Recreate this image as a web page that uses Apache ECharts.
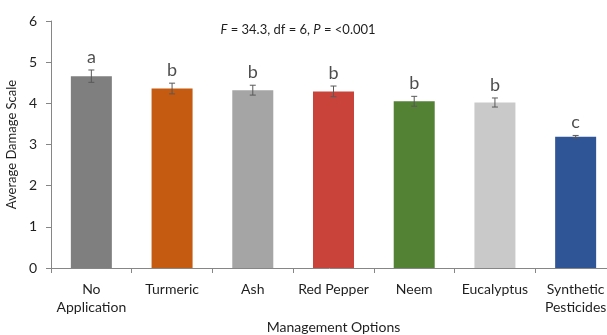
<!DOCTYPE html>
<html><head><meta charset="utf-8">
<script src="https://cdn.jsdelivr.net/npm/echarts@6/dist/echarts.min.js"></script>
<style>html,body{margin:0;padding:0;background:#fff}#c{width:607px;height:335px}</style>
</head><body><div id="c"></div>
<script>
var categories = ['No\nApplication','Turmeric','Ash','Red Pepper','Neem','Eucalyptus','Synthetic\nPesticides'];
var means = [4.66, 4.36, 4.32, 4.29, 4.05, 4.02, 3.19];
var errors = [0.15, 0.13, 0.12, 0.13, 0.12, 0.11, 0.03];
var letters = ['a','b','b','b','b','b','c'];
var colors = ['#7f7f7f','#c55a11','#a5a5a5','#c9433b','#548235','#c9c9c9','#2f5597'];
var yTicks = [0,1,2,3,4,5,6];

var FONT = 'Lato';
var chart = echarts.init(document.getElementById('c'));
var barData = means.map(function(v,i){return {value:v,itemStyle:{color:colors[i]}};});
var errData = means.map(function(v,i){return [i, v-errors[i], v+errors[i]];});
var letterData = means.map(function(v,i){return {value:[i, v+errors[i]], label:{formatter:letters[i]}};});
chart.setOption({
  animation:false,
  textStyle:{fontFamily:FONT},
  title:{
    text:'{i|F} = 34.3, df = 6, {i|P} = <0.001',
    left:293, top:18, textAlign:'center',
    textStyle:{fontSize:13,fontWeight:'normal',color:'#1f1f1f',fontFamily:FONT,
      rich:{i:{fontStyle:'italic',fontSize:13,color:'#1f1f1f',fontFamily:FONT}}}
  },
  grid:{left:51,right:-9,top:21,bottom:67,containLabel:false,outerBoundsMode:'none'},
  xAxis:{
    type:'category', data:categories,
    name:'Management Options', nameLocation:'middle', nameGap:52,
    nameTextStyle:{fontSize:14,color:'#1f1f1f',fontFamily:FONT},
    axisLine:{lineStyle:{color:'#868686',width:1}},
    axisTick:{show:true,length:5,lineStyle:{color:'#868686'}},
    axisLabel:{fontSize:14,color:'#1f1f1f',margin:12,lineHeight:18,fontFamily:FONT,interval:0}
  },
  yAxis:{
    type:'value', min:0, max:6, interval:1,
    name:'Average Damage Scale', nameLocation:'middle', nameGap:27,
    nameTextStyle:{fontSize:13,color:'#1f1f1f',fontFamily:FONT},
    axisLine:{show:true,lineStyle:{color:'#868686',width:1}},
    axisTick:{show:true,length:5,lineStyle:{color:'#868686'}},
    splitLine:{show:false},
    axisLabel:{fontSize:14,color:'#1f1f1f',margin:14,fontFamily:FONT,
      formatter:function(v){return yTicks.indexOf(v)>=0?String(v):'';}}
  },
  series:[
    {type:'bar', data:barData, barWidth:41, z:2},
    {type:'custom', z:3, data:errData,
      renderItem:function(params, api){
        var x=api.value(0);
        var lo=api.coord([x,api.value(1)]);
        var hi=api.coord([x,api.value(2)]);
        var w=3;
        var st={stroke:'#595959',lineWidth:1};
        return {type:'group',children:[
          {type:'line',shape:{x1:lo[0],y1:lo[1],x2:hi[0],y2:hi[1]},style:st},
          {type:'line',shape:{x1:lo[0]-w,y1:lo[1],x2:lo[0]+w,y2:lo[1]},style:st},
          {type:'line',shape:{x1:hi[0]-w,y1:hi[1],x2:hi[0]+w,y2:hi[1]},style:st}
        ]};
      }
    },
    {type:'scatter', data:letterData, symbolSize:0, z:4, silent:true,
      label:{show:true,position:'top',distance:4,fontSize:18,color:'#1f1f1f',fontFamily:FONT}
    }
  ]
});
</script></body></html>
